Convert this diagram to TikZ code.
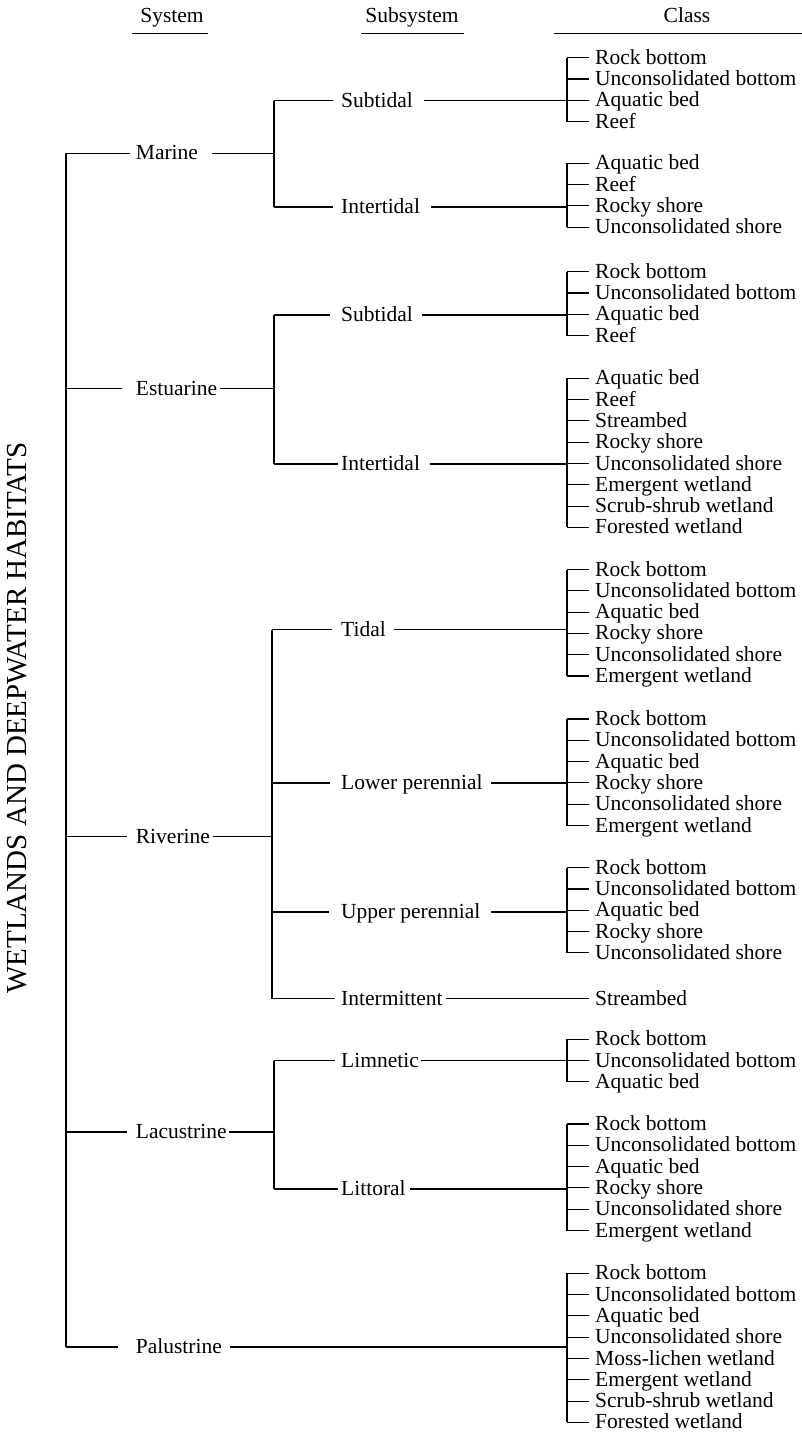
\documentclass[tikz,border=0pt]{standalone}
\usepackage{fontspec}
\setmainfont{Liberation Serif}
\newcommand\fs{\fontsize{21.5pt}{25pt}\selectfont}
\tikzset{
  lbl/.style={anchor=west, inner xsep=0pt, inner ysep=0pt, text height=15pt, text depth=2pt, font=\fs},
  cls/.style={lbl, inner xsep=6pt},
  hdr/.style={anchor=base, inner sep=0pt, font=\fs},
  ln/.style={line width=1.1pt, black},
}
% class group: #1 name, #2 first y, #3 last index, #4 list
\newcommand\clsgroup[4]{%
  \foreach \t [count=\i from 0] in {#4}{
    \coordinate (#1-b\i) at (567,{#2+21.3*\i});
    \node[cls] (#1-\i) at (589,{#2+21.3*\i}) {\t};
    \draw[ln] (#1-b\i) -- (#1-\i.west);
  }
  \draw[ln] (#1-b0) -- (#1-b#3);
}
% subsystem: #1 name, #2 y, #3 text, #4 vertical x, #5 left gap, #6 right gap, #7 target
\newcommand\subsys[7]{%
  \coordinate (#1-j) at (#4,#2);
  \node[lbl] (#1) at (341,#2) {#3};
  \draw[ln] (#1-j) -- ([xshift=-#5pt]#1.west);
  \draw[ln] ([xshift=#6pt]#1.east) -- (#7);
}
% system: #1 name, #2 y, #3 text, #4 left gap, #5 right gap, #6 target
\newcommand\sysnode[6]{%
  \coordinate (#1-m) at (66,#2);
  \node[lbl] (#1) at (135.7,#2) {#3};
  \draw[ln] (#1-m) -- ([xshift=-#4pt]#1.west);
  \draw[ln] ([xshift=#5pt]#1.east) -- (#6);
}
\begin{document}
\begin{tikzpicture}[x=1pt,y=-1pt]
\useasboundingbox (0,0) rectangle (802,1433);

% headers
\node[hdr] (hsys) at (172,22.7) {System};
\node[hdr] (hsub) at (412,22.7) {Subsystem};
\node[hdr] (hcls) at (687,22.7) {Class};
\draw[ln] (132,33.5) -- (208,33.5);
\draw[ln] (361,33.5) -- (464,33.5);
\draw[ln] (554,33.5) -- (802,33.5);

% title
\node[rotate=90, inner sep=0pt, font=\fontsize{29pt}{30pt}\selectfont] (title) at (17.5,718) {WETLANDS AND DEEPWATER HABITATS};

% incoming coordinates on class brackets
\coordinate (msub-in) at (567,100.5);
\coordinate (mint-in) at (567,207);
\coordinate (esub-in) at (567,315);
\coordinate (eint-in) at (567,464);
\coordinate (rtid-in) at (567,629.5);
\coordinate (rlow-in) at (567,783);
\coordinate (rupp-in) at (567,912);
\coordinate (rint-in) at (567,998.5);
\coordinate (llim-in) at (567,1060.6);
\coordinate (llit-in) at (567,1189);
\coordinate (pal-in) at (567,1347);

% subsystem junctions for systems
\coordinate (mar-v) at (274,153.3);
\coordinate (est-v) at (274,388.5);
\coordinate (riv-v) at (272,836.5);
\coordinate (lac-v) at (274,1132);

% systems
\sysnode{mar}{153.3}{Marine}{5.6}{13.5}{mar-v}
\sysnode{est}{388.5}{Estuarine}{14}{2.6}{est-v}
\sysnode{riv}{836.5}{Riverine}{8.4}{2.4}{riv-v}
\sysnode{lac}{1132}{Lacustrine}{8.4}{2.3}{lac-v}
\sysnode{pal}{1347}{Palustrine}{18}{7.6}{pal-in}
\draw[ln] (mar-m) -- (pal-m);

% subsystems
\subsys{msub}{100.5}{Subtidal}{274}{8.5}{10.8}{msub-in}
\subsys{mint}{207}{Intertidal}{274}{8.5}{10.9}{mint-in}
\draw[ln] (msub-j) -- (mint-j);

\subsys{esub}{315}{Subtidal}{274}{11}{8.8}{esub-in}
\subsys{eint}{464}{Intertidal}{274}{3}{9.8}{eint-in}
\draw[ln] (esub-j) -- (eint-j);

\subsys{rtid}{629.5}{Tidal}{272}{9.3}{8}{rtid-in}
\subsys{rlow}{783}{Lower perennial}{272}{11}{8.5}{rlow-in}
\subsys{rupp}{912}{Upper perennial}{272}{12}{11}{rupp-in}
\subsys{rint}{998.5}{Intermittent}{272}{6.5}{3}{rint-in}
\draw[ln] (rtid-j) -- (rint-j);

\subsys{llim}{1060.6}{Limnetic}{274}{6.5}{2.2}{llim-in}
\subsys{llit}{1189}{Littoral}{274}{3}{4.5}{llit-in}
\draw[ln] (llim-j) -- (llit-j);

% classes
\clsgroup{cmsub}{57.7}{3}{Rock bottom,Unconsolidated bottom,Aquatic bed,Reef}
\clsgroup{cmint}{163.3}{3}{Aquatic bed,Reef,Rocky shore,Unconsolidated shore}
\clsgroup{cesub}{271.7}{3}{Rock bottom,Unconsolidated bottom,Aquatic bed,Reef}
\clsgroup{ceint}{378.3}{7}{Aquatic bed,Reef,Streambed,Rocky shore,Unconsolidated shore,Emergent wetland,Scrub-shrub wetland,Forested wetland}
\clsgroup{crtid}{569.5}{5}{Rock bottom,Unconsolidated bottom,Aquatic bed,Rocky shore,Unconsolidated shore,Emergent wetland}
\clsgroup{crlow}{719}{5}{Rock bottom,Unconsolidated bottom,Aquatic bed,Rocky shore,Unconsolidated shore,Emergent wetland}
\clsgroup{crupp}{867.7}{4}{Rock bottom,Unconsolidated bottom,Aquatic bed,Rocky shore,Unconsolidated shore}
\clsgroup{crint}{998.5}{0}{Streambed}
\clsgroup{cllim}{1039.3}{2}{Rock bottom,Unconsolidated bottom,Aquatic bed}
\clsgroup{cllit}{1124}{5}{Rock bottom,Unconsolidated bottom,Aquatic bed,Rocky shore,Unconsolidated shore,Emergent wetland}
\clsgroup{cpal}{1273.3}{7}{Rock bottom,Unconsolidated bottom,Aquatic bed,Unconsolidated shore,Moss-lichen wetland,Emergent wetland,Scrub-shrub wetland,Forested wetland}
\end{tikzpicture}
\end{document}
